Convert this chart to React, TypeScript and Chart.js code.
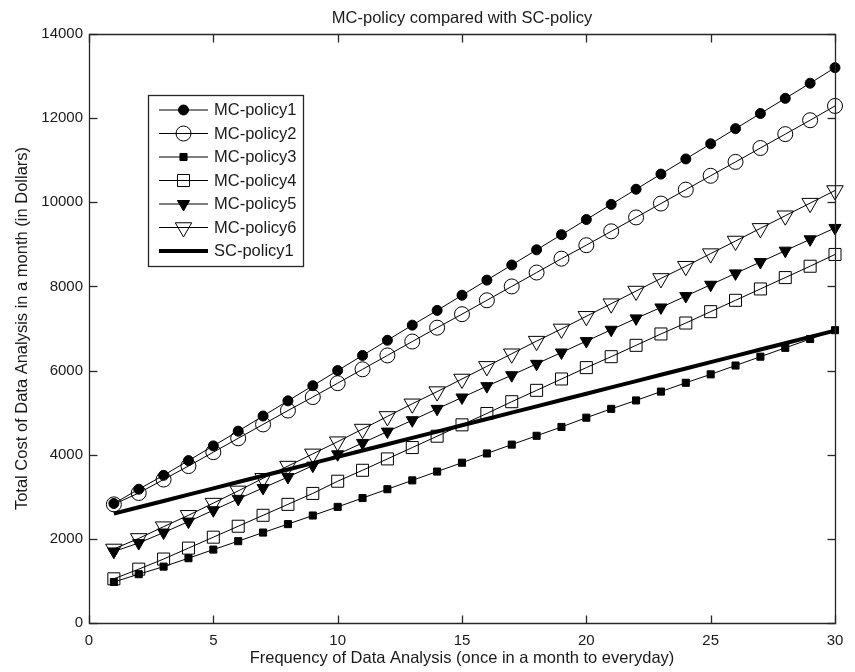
import React, { useEffect, useRef } from "react";
import { Chart, registerables } from "chart.js";

Chart.register(...registerables);

const xValues = [1, 2, 3, 4, 5, 6, 7, 8, 9, 10, 11, 12, 13, 14, 15, 16, 17, 18, 19, 20, 21, 22, 23, 24, 25, 26, 27, 28, 29, 30];

const mcPolicy1 = [2840, 3180, 3510, 3860, 4210, 4560, 4920, 5280, 5640, 6000, 6360, 6720, 7080, 7430, 7790, 8150, 8510, 8870, 9230, 9590, 9950, 10310, 10670, 11030, 11390, 11750, 12110, 12470, 12830, 13200];
const mcPolicy2 = [2820, 3090, 3410, 3730, 4060, 4390, 4720, 5050, 5370, 5700, 6030, 6360, 6690, 7020, 7340, 7670, 8000, 8330, 8660, 8980, 9310, 9640, 9970, 10300, 10630, 10960, 11290, 11620, 11950, 12290];
const mcPolicy3 = [975, 1160, 1340, 1540, 1745, 1945, 2150, 2350, 2555, 2760, 2970, 3180, 3390, 3600, 3810, 4030, 4240, 4450, 4660, 4880, 5090, 5290, 5500, 5710, 5910, 6120, 6330, 6540, 6750, 6960];
const mcPolicy4 = [1050, 1280, 1520, 1780, 2040, 2300, 2560, 2820, 3080, 3370, 3630, 3900, 4170, 4440, 4710, 4980, 5260, 5530, 5800, 6070, 6330, 6600, 6870, 7130, 7400, 7670, 7940, 8210, 8480, 8760];
const mcPolicy5 = [1700, 1900, 2150, 2410, 2680, 2950, 3210, 3470, 3740, 4010, 4280, 4550, 4820, 5090, 5360, 5630, 5890, 6160, 6430, 6700, 6970, 7240, 7500, 7770, 8040, 8310, 8580, 8850, 9120, 9390];
const mcPolicy6 = [1760, 2010, 2290, 2560, 2850, 3140, 3440, 3730, 4020, 4310, 4610, 4910, 5210, 5500, 5800, 6100, 6400, 6700, 6990, 7290, 7590, 7890, 8190, 8480, 8780, 9080, 9380, 9680, 9980, 10280];
const scPolicy1 = [2600, 2750, 2900, 3050, 3200, 3350, 3500, 3650, 3800, 3950, 4100, 4250, 4400, 4550, 4700, 4850, 5000, 5150, 5300, 5450, 5600, 5750, 5900, 6050, 6200, 6350, 6500, 6650, 6800, 6950];

const seriesNames = ["MC-policy1", "MC-policy2", "MC-policy3", "MC-policy4", "MC-policy5", "MC-policy6", "SC-policy1"];
const xTickValues = [0, 5, 10, 15, 20, 25, 30];
const yTickValues = [0, 2000, 4000, 6000, 8000, 10000, 12000, 14000];

const titleText = "MC-policy compared with SC-policy";
const xTitle = "Frequency of Data Analysis (once in a month to everyday)";
const yTitle = "Total Cost of Data Analysis in a month (in Dollars)";

const FONT = "'Liberation Sans', Arial, Helvetica, sans-serif";
const INK = "#000000";
const AXIS = "#262626";
const TEXT = "#1a1a1a";
const CLEAR = "rgba(0,0,0,0)";

type Style = { pointStyle: any; radius: number; fill: string; rotation: number; width: number };
const styles: Style[] = [
  { pointStyle: "circle", radius: 5, fill: INK, rotation: 0, width: 1 },
  { pointStyle: "circle", radius: 7.5, fill: CLEAR, rotation: 0, width: 1 },
  { pointStyle: "rect", radius: 5, fill: INK, rotation: 0, width: 1 },
  { pointStyle: "rect", radius: 8.5, fill: CLEAR, rotation: 0, width: 1 },
  { pointStyle: "triangle", radius: 7, fill: INK, rotation: 180, width: 1 },
  { pointStyle: "triangle", radius: 9.5, fill: CLEAR, rotation: 180, width: 1 },
  { pointStyle: false, radius: 0, fill: INK, rotation: 0, width: 4 },
];

function drawMarker(ctx: CanvasRenderingContext2D, st: Style, x: number, y: number) {
  const r = st.radius;
  ctx.beginPath();
  if (st.pointStyle === "circle") {
    ctx.arc(x, y, r, 0, Math.PI * 2);
  } else if (st.pointStyle === "rect") {
    const s = Math.SQRT1_2 * r;
    ctx.rect(x - s, y - s, 2 * s, 2 * s);
  } else if (st.pointStyle === "triangle") {
    let a = (st.rotation * Math.PI) / 180;
    ctx.moveTo(x + Math.sin(a) * r, y - Math.cos(a) * r);
    a += (2 * Math.PI) / 3;
    ctx.lineTo(x + Math.sin(a) * r, y - Math.cos(a) * r);
    a += (2 * Math.PI) / 3;
    ctx.lineTo(x + Math.sin(a) * r, y - Math.cos(a) * r);
    ctx.closePath();
  }
  ctx.fill();
  ctx.stroke();
}

const decorPlugin = {
  id: "matlabDecor",
  afterDraw(chart: any) {
    const ctx: CanvasRenderingContext2D = chart.ctx;
    const { left, right, top, bottom } = chart.chartArea;
    const xs = chart.scales.x;
    const ys = chart.scales.y;
    const L = Math.round(left) + 0.5;
    const R = Math.round(right) + 0.5;
    const T = Math.round(top) + 0.5;
    const B = Math.round(bottom) + 0.5;

    ctx.save();
    ctx.setLineDash([]);
    ctx.strokeStyle = AXIS;
    ctx.lineWidth = 1.3;
    ctx.beginPath();
    ctx.moveTo(L, T);
    ctx.lineTo(R, T);
    ctx.lineTo(R, B);
    ctx.lineTo(L, B);
    ctx.closePath();
    ctx.stroke();

    const tl = 8;
    ctx.lineWidth = 1.3;
    for (const v of xTickValues) {
      const px = Math.round(xs.getPixelForValue(v)) + 0.5;
      ctx.beginPath();
      ctx.moveTo(px, B);
      ctx.lineTo(px, B - tl);
      ctx.stroke();
      ctx.beginPath();
      ctx.moveTo(px, T);
      ctx.lineTo(px, T + tl);
      ctx.stroke();
    }
    for (const v of yTickValues) {
      const py = Math.round(ys.getPixelForValue(v)) + 0.5;
      ctx.beginPath();
      ctx.moveTo(L, py);
      ctx.lineTo(L + tl, py);
      ctx.stroke();
      ctx.beginPath();
      ctx.moveTo(R, py);
      ctx.lineTo(R - tl, py);
      ctx.stroke();
    }

    // legend
    const lx = 148.5, ly = 95.5, lw = 155, lh = 171;
    ctx.fillStyle = "#ffffff";
    ctx.fillRect(lx, ly, lw, lh);
    ctx.strokeStyle = AXIS;
    ctx.lineWidth = 1.3;
    ctx.strokeRect(lx, ly, lw, lh);
    ctx.font = `16.5px ${FONT}`;
    ctx.textBaseline = "middle";
    ctx.textAlign = "left";
    seriesNames.forEach((name, i) => {
      const cy = 110 + i * 23.5;
      const st = styles[i];
      ctx.strokeStyle = INK;
      ctx.lineWidth = st.width;
      ctx.beginPath();
      ctx.moveTo(159, cy);
      ctx.lineTo(208, cy);
      ctx.stroke();
      if (st.pointStyle) {
        ctx.lineWidth = 1;
        ctx.strokeStyle = INK;
        ctx.fillStyle = st.fill;
        drawMarker(ctx, st, 183.5, cy);
      }
      ctx.fillStyle = TEXT;
      ctx.fillText(name, 214, cy + 0.5);
    });

    // titles
    const cx = (left + right) / 2;
    const cyMid = (top + bottom) / 2;
    ctx.fillStyle = TEXT;
    ctx.textAlign = "center";
    ctx.textBaseline = "alphabetic";
    ctx.font = `16.5px ${FONT}`;
    ctx.fillText(titleText, cx, 23);
    ctx.fillText(xTitle, cx, 663);
    ctx.translate(27, cyMid);
    ctx.rotate(-Math.PI / 2);
    ctx.fillText(yTitle, 0, 0);
    ctx.restore();
  },
};

export default function App() {
  const canvasRef = useRef<HTMLCanvasElement | null>(null);

  useEffect(() => {
    document.body.style.margin = "0";
    const canvas = canvasRef.current;
    if (!canvas) return;
    const allSeries = [mcPolicy1, mcPolicy2, mcPolicy3, mcPolicy4, mcPolicy5, mcPolicy6, scPolicy1];
    const datasets = allSeries.map((vals, i) => {
      const st = styles[i];
      return {
        label: seriesNames[i],
        data: xValues.map((x, j) => ({ x, y: vals[j] })),
        borderColor: INK,
        borderWidth: st.width,
        backgroundColor: INK,
        pointStyle: st.pointStyle,
        pointRadius: st.radius,
        pointHoverRadius: st.radius,
        pointBackgroundColor: st.fill,
        pointBorderColor: INK,
        pointBorderWidth: 1,
        pointRotation: st.rotation,
        showLine: true,
        fill: false,
        tension: 0,
        clip: false as any,
        order: 10 - i,
      };
    });

    const chart = new Chart(canvas, {
      type: "scatter",
      data: { datasets: datasets as any },
      options: {
        animation: false,
        responsive: false,
        maintainAspectRatio: false,
        layout: { padding: { top: 34, right: 20, left: 0, bottom: 0 } },
        plugins: {
          legend: { display: false },
          title: { display: false },
          tooltip: { enabled: false },
        },
        scales: {
          x: {
            type: "linear",
            min: 0,
            max: 30,
            afterFit: (s: any) => { s.height = 49; },
            afterBuildTicks: (s: any) => { s.ticks = xTickValues.map((v) => ({ value: v })); },
            grid: { display: false, drawTicks: false },
            border: { display: false },
            ticks: { color: TEXT, font: { family: FONT, size: 15 }, padding: 9, maxRotation: 0, callback: (v: any) => String(v) },
          },
          y: {
            type: "linear",
            min: 0,
            max: 14000,
            afterFit: (s: any) => { s.width = 89; },
            afterBuildTicks: (s: any) => { s.ticks = yTickValues.map((v) => ({ value: v })); },
            grid: { display: false, drawTicks: false },
            border: { display: false },
            ticks: { color: TEXT, font: { family: FONT, size: 15 }, padding: 6, callback: (v: any) => String(v) },
          },
        },
      },
      plugins: [decorPlugin],
    });
    return () => chart.destroy();
  }, []);

  return (
    <div style={{ width: 855, height: 672, background: "#ffffff" }}>
      <canvas ref={canvasRef} width={855} height={672} style={{ display: "block" }} />
    </div>
  );
}
